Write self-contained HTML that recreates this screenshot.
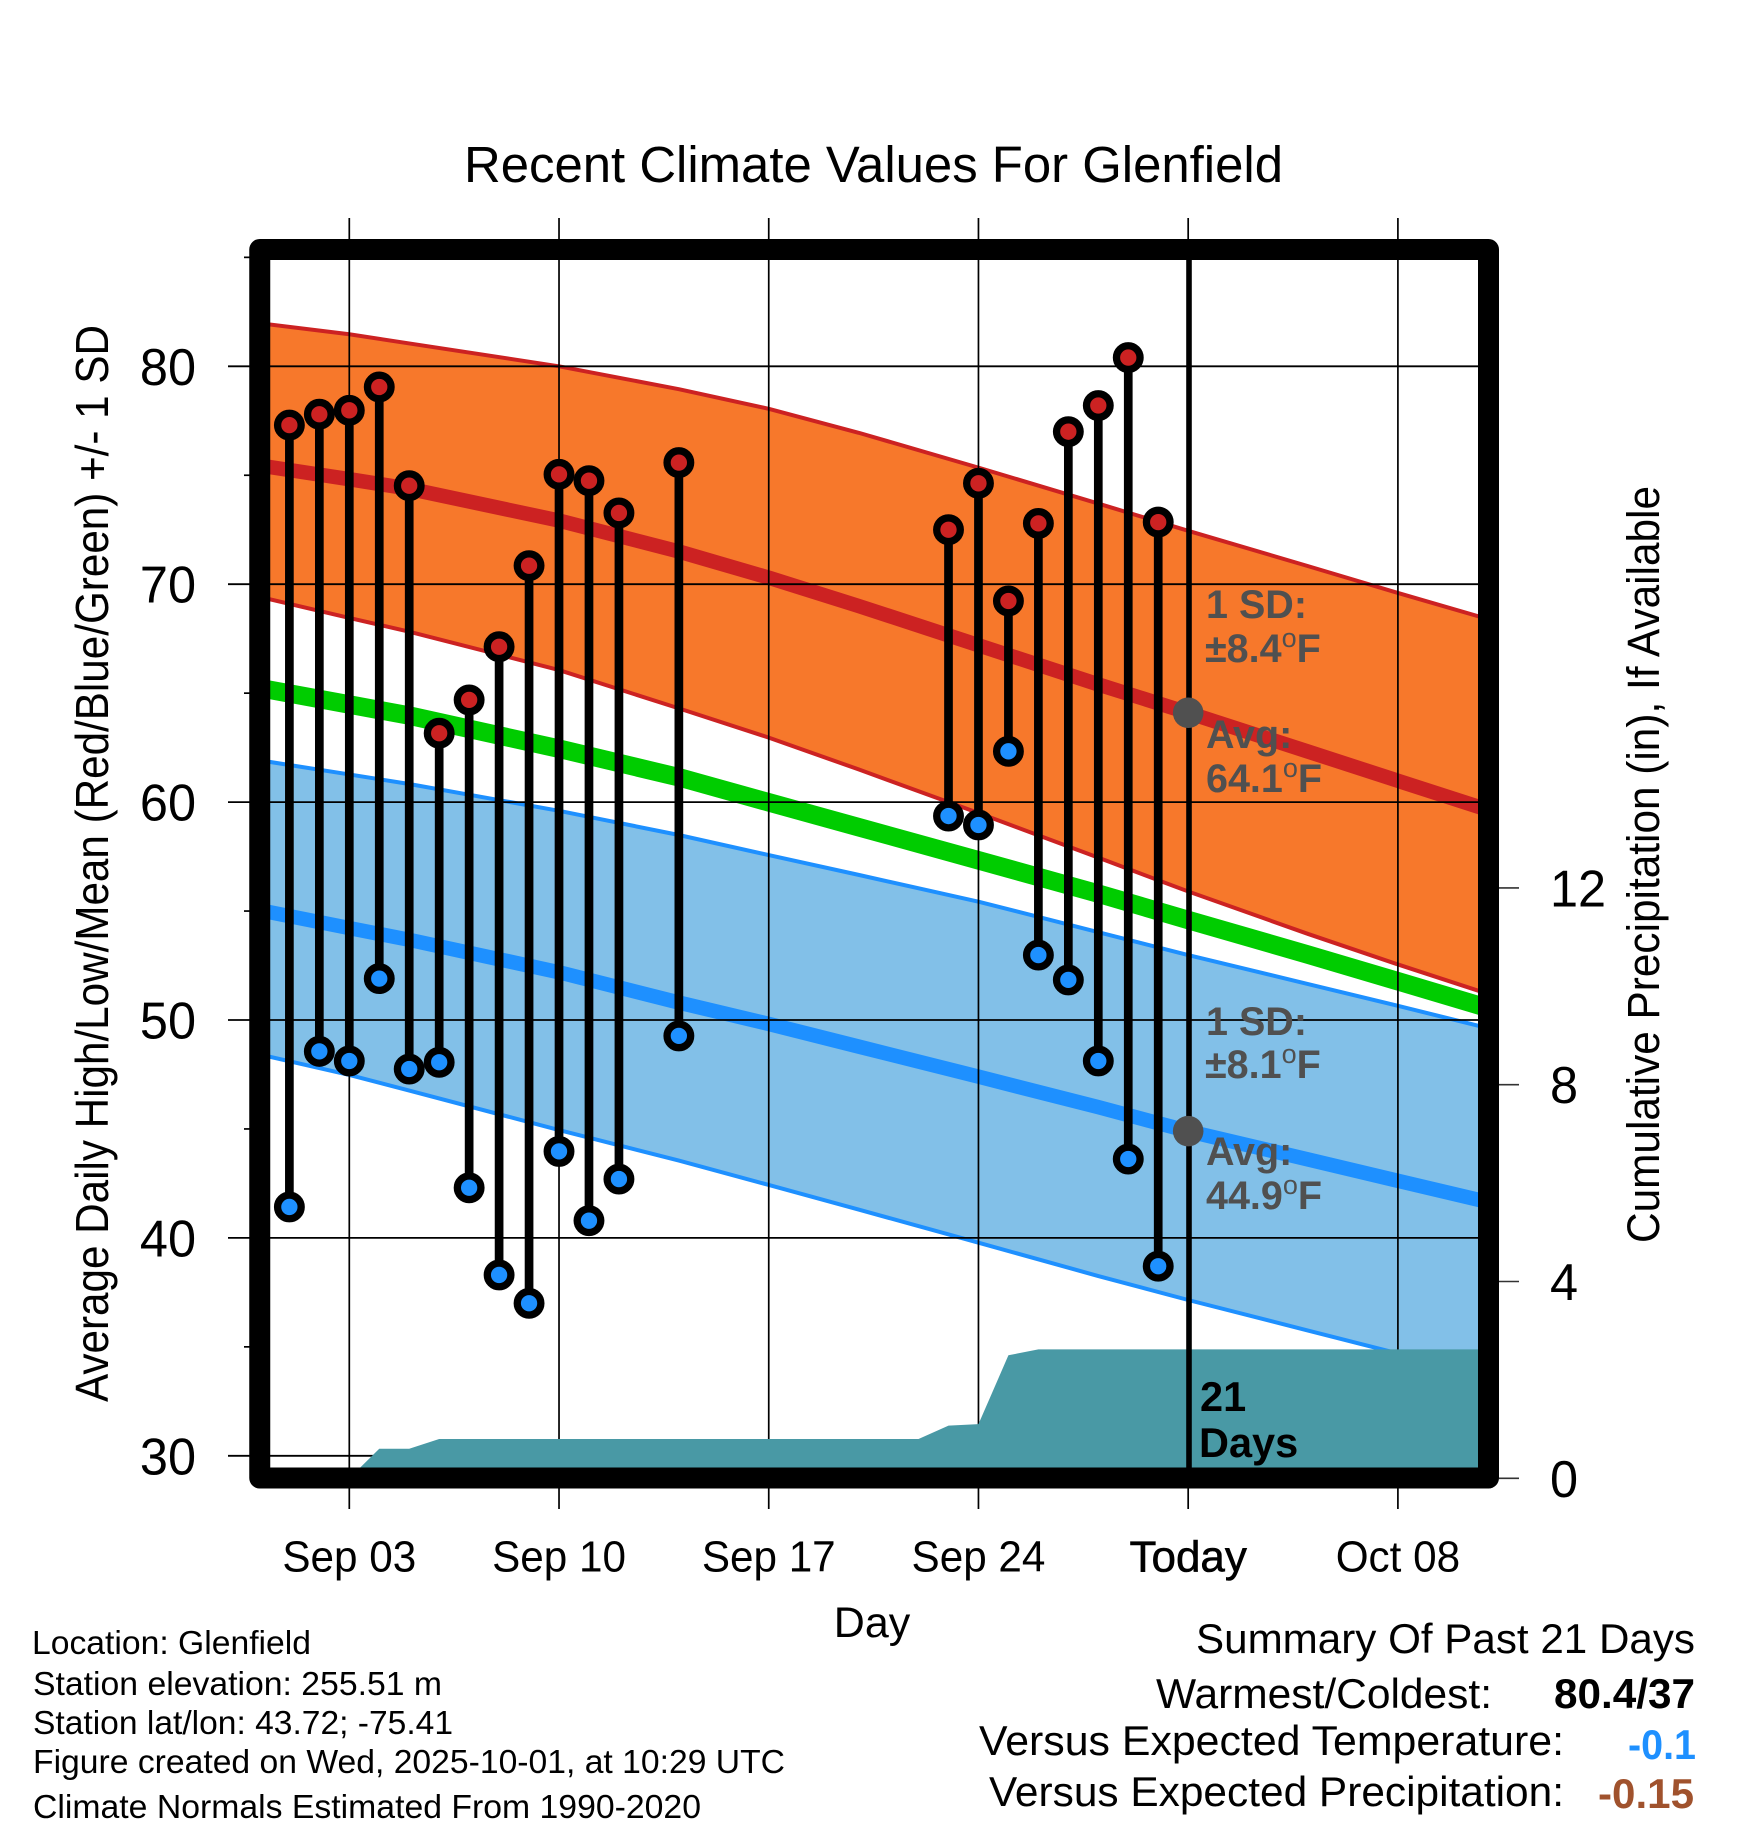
<!DOCTYPE html>
<html lang="en">
<head>
<meta charset="utf-8">
<title>Recent Climate Values For Glenfield</title>
<style>
html,body{margin:0;padding:0;background:#fff;}
svg{display:block;font-family:"Liberation Sans",Arial,sans-serif;}
</style>
</head>
<body>
<svg id="chart" xmlns="http://www.w3.org/2000/svg" width="1748" height="1828" viewBox="0 0 1748 1828">
  <defs><clipPath id="plot-clip"><rect x="270" y="260" width="1208" height="1208"/></clipPath></defs>
  <rect x="0" y="0" width="1748" height="1828" fill="#fff"/>
  <g id="bands" clip-path="url(#plot-clip)"></g>
  <g id="grid"></g>
  <g id="precip" clip-path="url(#plot-clip)"></g>
  <g id="obs"></g>

  <line x1="1189" y1="260" x2="1189" y2="1468" stroke="#000" stroke-width="5.6"/>
  <g id="today-dots"></g>

  <g font-weight="bold" font-size="39.5" fill="#505050">
    <text x="1206" y="618">1 SD:</text>
    <text x="1205" y="662">±8.4<tspan font-size="27" font-weight="normal" dy="-15">o</tspan><tspan dy="15">F</tspan></text>
    <text x="1206" y="748">Avg:</text>
    <text x="1206" y="792">64.1<tspan font-size="27" font-weight="normal" dy="-15">o</tspan><tspan dy="15">F</tspan></text>
  </g>
  <g font-weight="bold" font-size="39.5" fill="#505050">
    <text x="1206" y="1035">1 SD:</text>
    <text x="1205" y="1078">±8.1<tspan font-size="27" font-weight="normal" dy="-15">o</tspan><tspan dy="15">F</tspan></text>
    <text x="1206" y="1165">Avg:</text>
    <text x="1206" y="1209">44.9<tspan font-size="27" font-weight="normal" dy="-15">o</tspan><tspan dy="15">F</tspan></text>
  </g>
  <text x="1200" y="1411" font-size="41.5" font-weight="bold" fill="#000">21</text>
  <text x="1199" y="1457" font-size="41.5" font-weight="bold" fill="#000">Days</text>

  <rect x="259.75" y="249.5" width="1228.75" height="1228.5" fill="none" stroke="#000" stroke-width="21" stroke-linejoin="round"/>
  <g id="ticks"></g>

  <text x="464" y="182" font-size="51" textLength="819" lengthAdjust="spacingAndGlyphs">Recent Climate Values For Glenfield</text>
  <text x="872" y="1637" font-size="43" text-anchor="middle">Day</text>
  <text transform="translate(108,1402) rotate(-90)" font-size="46" textLength="1077" lengthAdjust="spacingAndGlyphs">Average Daily High/Low/Mean (Red/Blue/Green) +/- 1 SD</text>
  <text transform="translate(1659,1243) rotate(-90)" font-size="45" textLength="757" lengthAdjust="spacingAndGlyphs">Cumulative Precipitation (in), If Available</text>

  <g font-size="33" fill="#000">
    <text x="32" y="1654" textLength="279" lengthAdjust="spacingAndGlyphs">Location: Glenfield</text>
    <text x="33" y="1695" textLength="409" lengthAdjust="spacingAndGlyphs">Station elevation: 255.51 m</text>
    <text x="33" y="1734" textLength="420" lengthAdjust="spacingAndGlyphs">Station lat/lon: 43.72; -75.41</text>
    <text x="33" y="1773" textLength="752" lengthAdjust="spacingAndGlyphs">Figure created on Wed, 2025-10-01, at 10:29 UTC</text>
    <text x="33" y="1818" textLength="668" lengthAdjust="spacingAndGlyphs">Climate Normals Estimated From 1990-2020</text>
  </g>
  <g font-size="42" fill="#000">
    <text x="1196" y="1653" textLength="499" lengthAdjust="spacingAndGlyphs">Summary Of Past 21 Days</text>
    <text x="1156" y="1708" textLength="336" lengthAdjust="spacingAndGlyphs">Warmest/Coldest:</text>
    <text x="1554" y="1708" font-weight="bold" textLength="141" lengthAdjust="spacingAndGlyphs">80.4/37</text>
    <text x="979" y="1755" textLength="585" lengthAdjust="spacingAndGlyphs">Versus Expected Temperature:</text>
    <text x="1628" y="1759" font-weight="bold" fill="#1E90FF" textLength="68" lengthAdjust="spacingAndGlyphs">-0.1</text>
    <text x="989" y="1806" textLength="575" lengthAdjust="spacingAndGlyphs">Versus Expected Precipitation:</text>
    <text x="1598" y="1808" font-weight="bold" fill="#A0522D" textLength="96" lengthAdjust="spacingAndGlyphs">-0.15</text>
  </g>
</svg>
<script>
// Day numbers count from Sep 0 (Aug 31); Oct 1 is day 31.
var normalDays = [0, 3, 5, 10, 14, 17, 20, 24, 28, 31, 35, 38, 41];
var highUpper  = [81.98, 81.47, 81.05, 80.0, 78.95, 78.05, 76.95, 75.35, 73.7, 72.45, 70.83, 69.6, 68.4];
var highMean   = [75.45, 74.82, 74.38, 72.92, 71.5, 70.3, 69.0, 67.2, 65.4, 64.1, 62.32, 60.98, 59.65];
var highLower  = [69.42, 68.45, 67.82, 66.06, 64.3, 62.96, 61.5, 59.5, 57.45, 55.9, 53.95, 52.55, 51.2];
var meanNormal = [65.24, 64.48, 63.97, 62.45, 61.14, 59.99, 58.85, 57.33, 55.8, 54.59, 53.0, 51.78, 50.55];
var lowUpper   = [61.92, 61.27, 60.83, 59.6, 58.49, 57.57, 56.66, 55.43, 54.03, 52.98, 51.65, 50.65, 49.63];
var lowMean    = [55.04, 54.22, 53.68, 52.19, 50.8, 49.82, 48.78, 47.4, 46.0, 44.9, 43.6, 42.62, 41.65];
var lowLower   = [48.42, 47.48, 46.76, 44.95, 43.55, 42.43, 41.3, 39.78, 38.25, 37.15, 35.75, 34.7, 33.65];

var obsDays  = [1, 2, 3, 4, 5, 6, 7, 8, 9, 10, 11, 12, 14, 23, 24, 25, 26, 27, 28, 29, 30];
var obsHighs = [77.3, 77.8, 77.98, 79.05, 74.52, 63.16, 64.69, 67.13, 70.85, 75.04, 74.75, 73.27, 75.58, 72.5, 74.63, 69.23, 72.79, 77.0, 78.2, 80.4, 72.85];
var obsLows  = [41.42, 48.56, 48.12, 51.9, 47.75, 48.06, 42.3, 38.3, 37.0, 43.97, 40.79, 42.7, 49.27, 59.36, 58.95, 62.33, 52.98, 51.84, 48.12, 43.62, 38.7];

var precipDays   = [3, 4, 5, 6, 22, 23, 24, 25, 26, 41];
var precipValues = [0, 0.6, 0.6, 0.8, 0.8, 1.07, 1.1, 2.5, 2.62, 2.62];

var xTickDays   = [3, 10, 17, 24, 31, 38];
var xTickLabels = ["Sep 03", "Sep 10", "Sep 17", "Sep 24", "Today", "Oct 08"];
var yTicks      = [30, 40, 50, 60, 70, 80];
var yMinorTicks = [35, 45, 55, 65, 75, 85];
var rightTicks  = [0, 4, 8, 12];
var todayDay = 31;
var todayHighAvg = 64.1;
var todayLowAvg = 44.9;

function xScale(d) { return 349.3 + (d - 3) * 29.96; }
function yTemp(t)  { return 366.3 + (80 - t) * 21.79; }
function yPrecip(p){ return 1478.3 - p * 49.2; }

var NS = "http://www.w3.org/2000/svg";
function make(parent, tag, attrs) {
  var el = document.createElementNS(NS, tag);
  for (var k in attrs) el.setAttribute(k, attrs[k]);
  parent.appendChild(el);
  return el;
}
function linePoints(days, vals, yf) {
  return days.map(function (d, i) { return xScale(d).toFixed(2) + "," + yf(vals[i]).toFixed(2); });
}
function bandPoints(days, top, bottom) {
  return linePoints(days, top, yTemp).concat(linePoints(days, bottom, yTemp).reverse()).join(" ");
}

var bands = document.getElementById("bands");
var el;
el = make(bands, "polygon", { points: bandPoints(normalDays, highUpper, highLower), fill: "#F7782B" });


el = make(bands, "polygon", { points: bandPoints(normalDays, lowUpper, lowLower), fill: "#82C0E8" });


el = make(bands, "polyline", { points: linePoints(normalDays, highUpper, yTemp).join(" "), fill: "none", stroke: "#CC2222", "stroke-width": 4, "stroke-linejoin": "round" });


el = make(bands, "polyline", { points: linePoints(normalDays, highLower, yTemp).join(" "), fill: "none", stroke: "#CC2222", "stroke-width": 4, "stroke-linejoin": "round" });


el = make(bands, "polyline", { points: linePoints(normalDays, lowUpper, yTemp).join(" "), fill: "none", stroke: "#1E90FF", "stroke-width": 4, "stroke-linejoin": "round" });


el = make(bands, "polyline", { points: linePoints(normalDays, lowLower, yTemp).join(" "), fill: "none", stroke: "#1E90FF", "stroke-width": 4, "stroke-linejoin": "round" });


el = make(bands, "polyline", { points: linePoints(normalDays, highMean, yTemp).join(" "), fill: "none", stroke: "#CC2222", "stroke-width": 14.5, "stroke-linejoin": "round" });


el = make(bands, "polyline", { points: linePoints(normalDays, lowMean, yTemp).join(" "), fill: "none", stroke: "#1E90FF", "stroke-width": 14.5, "stroke-linejoin": "round" });


el = make(bands, "polyline", { points: linePoints(normalDays, meanNormal, yTemp).join(" "), fill: "none", stroke: "#00CC00", "stroke-width": 18.5, "stroke-linejoin": "round" });



var grid = document.getElementById("grid");
xTickDays.forEach(function (d) {
  var g = make(grid, "line", { x1: xScale(d), x2: xScale(d), y1: 218, y2: 1509, stroke: "#000", "stroke-width": 1.7 });
  
  
});
yTicks.forEach(function (t) {
  var g = make(grid, "line", { x1: 228, x2: 1478, y1: yTemp(t), y2: yTemp(t), stroke: "#000", "stroke-width": 1.8 });
  
  
});

var precip = document.getElementById("precip");
var precipPts = linePoints(precipDays, precipValues, yPrecip);
precipPts.push(xScale(precipDays[precipDays.length - 1]) + "," + yPrecip(0));
precipPts.push(xScale(precipDays[0]) + "," + yPrecip(0));
el = make(precip, "polygon", { points: precipPts.join(" "), fill: "#4999A5" });



var obs = document.getElementById("obs");
obsDays.forEach(function (d, i) {
  var stem = make(obs, "line", { x1: xScale(d), x2: xScale(d), y1: yTemp(obsHighs[i]), y2: yTemp(obsLows[i]), stroke: "#000", "stroke-width": 8.7 });
  
  
});
obsDays.forEach(function (d, i) {
  var hi = make(obs, "circle", { cx: xScale(d), cy: yTemp(obsHighs[i]), r: 11.8, fill: "#CC2222", stroke: "#000", "stroke-width": 7.3 });
  
  
  var lo = make(obs, "circle", { cx: xScale(d), cy: yTemp(obsLows[i]), r: 11.8, fill: "#1E90FF", stroke: "#000", "stroke-width": 7.3 });
  
  
});

var dots = document.getElementById("today-dots");
el = make(dots, "circle", { cx: xScale(todayDay), cy: yTemp(todayHighAvg), r: 15.3, fill: "#505050" });


el = make(dots, "circle", { cx: xScale(todayDay), cy: yTemp(todayLowAvg), r: 15.3, fill: "#505050" });



var ticks = document.getElementById("ticks");
yMinorTicks.forEach(function (t) {
  var m = make(ticks, "line", { x1: 244, x2: 250, y1: yTemp(t), y2: yTemp(t), stroke: "#000", "stroke-width": 1.7 });
  
  
});
rightTicks.forEach(function (p) {
  var m = make(ticks, "line", { x1: 1499, x2: 1519, y1: yPrecip(p), y2: yPrecip(p), stroke: "#333", "stroke-width": 1.6 });
  
  
  var lab = make(ticks, "text", { transform: "translate(1550," + (yPrecip(p) + 18.5) + ") scale(0.97,1)", "font-size": 52 });
  
  
  lab.textContent = p;
});
yTicks.forEach(function (t) {
  var lab = make(ticks, "text", { transform: "translate(196," + (yTemp(t) + 18.5) + ") scale(0.97,1)", "font-size": 52, "text-anchor": "end" });
  
  
  lab.textContent = t;
});
xTickDays.forEach(function (d, i) {
  var sx = d === todayDay ? 1.0 : 0.96;
  var lab = make(ticks, "text", { transform: "translate(" + xScale(d) + ",1571.7) scale(" + sx + ",1)", "font-size": 44, "text-anchor": "middle" });
  if (d === todayDay) { lab.setAttribute("stroke", "#000"); lab.setAttribute("stroke-width", "0.6"); }
  
  
  lab.textContent = xTickLabels[i];
});
</script>
</body>
</html>
